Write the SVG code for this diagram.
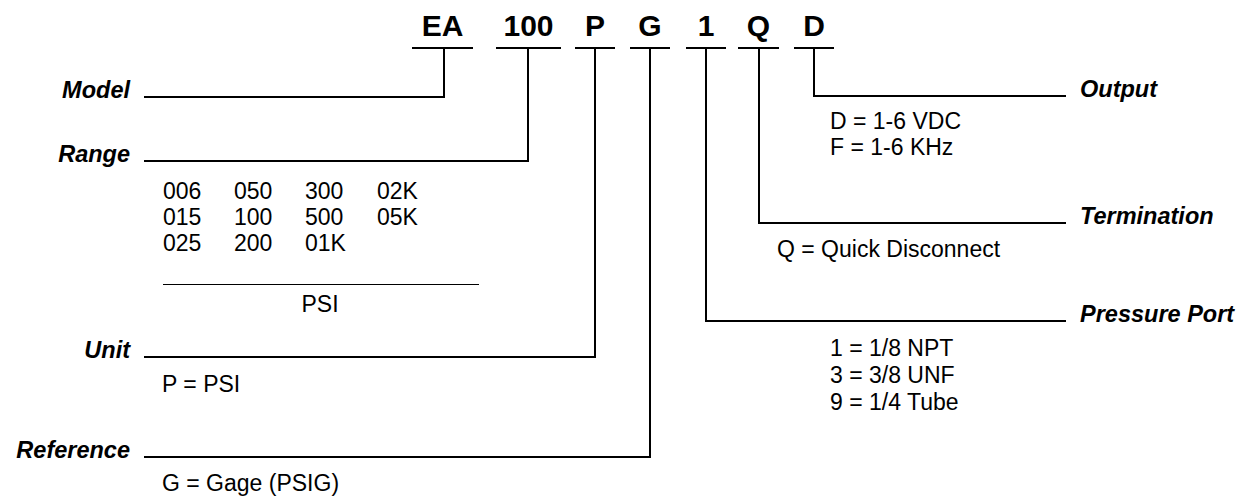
<svg xmlns="http://www.w3.org/2000/svg" width="1243" height="497" viewBox="0 0 1243 497">
<style>
.code{font-family:"Liberation Sans",Arial,Helvetica,sans-serif;font-weight:bold;font-size:30px;fill:#000;text-anchor:middle}
.lbl{font-family:"Liberation Sans",Arial,Helvetica,sans-serif;font-weight:bold;font-style:italic;font-size:23.5px;fill:#000}
.lbl.r{text-anchor:end}
.val{font-family:"Liberation Sans",Arial,Helvetica,sans-serif;font-size:23px;fill:#000}
.ln{stroke:#000;stroke-width:2;fill:none;stroke-linecap:square}
.thin{stroke:#000;stroke-width:1.2;fill:none}
</style>
<rect width="1243" height="497" fill="#fff"/>
<g id="code">
<text class="code" x="442.5" y="36">EA</text>
<text class="code" x="528.5" y="36">100</text>
<text class="code" x="595" y="36">P</text>
<text class="code" x="650" y="36">G</text>
<text class="code" x="706" y="36">1</text>
<text class="code" x="758.5" y="36">Q</text>
<text class="code" x="814" y="36">D</text>
<g class="ln">
<line x1="413" y1="48" x2="472" y2="48"/>
<line x1="497" y1="48" x2="560" y2="48"/>
<line x1="576" y1="48" x2="614" y2="48"/>
<line x1="631" y1="48" x2="669" y2="48"/>
<line x1="687" y1="48" x2="725" y2="48"/>
<line x1="739" y1="48" x2="778" y2="48"/>
<line x1="795" y1="48" x2="833" y2="48"/>
</g>
</g>
<g id="connectors" class="ln">
<path d="M444 48V97H145"/>
<path d="M528 48V161H145"/>
<path d="M595 48V357H145"/>
<path d="M650 48V457H145"/>
<path d="M706 48V321H1065"/>
<path d="M759 48V223H1065"/>
<path d="M814 48V96H1065"/>
</g>
<g id="model"><text class="lbl r" x="130" y="98">Model</text></g>
<g id="range">
<text class="lbl r" x="130" y="162">Range</text>
<text class="val" x="163" y="199">006</text><text class="val" x="234" y="199">050</text><text class="val" x="305" y="199">300</text><text class="val" x="377" y="199">02K</text>
<text class="val" x="163" y="225">015</text><text class="val" x="234" y="225">100</text><text class="val" x="305" y="225">500</text><text class="val" x="377" y="225">05K</text>
<text class="val" x="163" y="251">025</text><text class="val" x="234" y="251">200</text><text class="val" x="305" y="251">01K</text>
<line class="thin" x1="163" y1="284.5" x2="479" y2="284.5"/>
<text class="val" x="320" y="312" text-anchor="middle">PSI</text>
</g>
<g id="unit">
<text class="lbl r" x="130" y="358">Unit</text>
<text class="val" x="162" y="392">P = PSI</text>
</g>
<g id="reference">
<text class="lbl r" x="130" y="458">Reference</text>
<text class="val" x="162" y="491">G = Gage (PSIG)</text>
</g>
<g id="output">
<text class="lbl" x="1080" y="97">Output</text>
<text class="val" x="830" y="129">D = 1-6 VDC</text>
<text class="val" x="830" y="155">F = 1-6 KHz</text>
</g>
<g id="termination">
<text class="lbl" x="1080" y="224">Termination</text>
<text class="val" x="777" y="257">Q = Quick Disconnect</text>
</g>
<g id="pressure-port">
<text class="lbl" x="1080" y="322">Pressure Port</text>
<text class="val" x="830" y="356">1 = 1/8 NPT</text>
<text class="val" x="830" y="383">3 = 3/8 UNF</text>
<text class="val" x="830" y="410">9 = 1/4 Tube</text>
</g>
</svg>
